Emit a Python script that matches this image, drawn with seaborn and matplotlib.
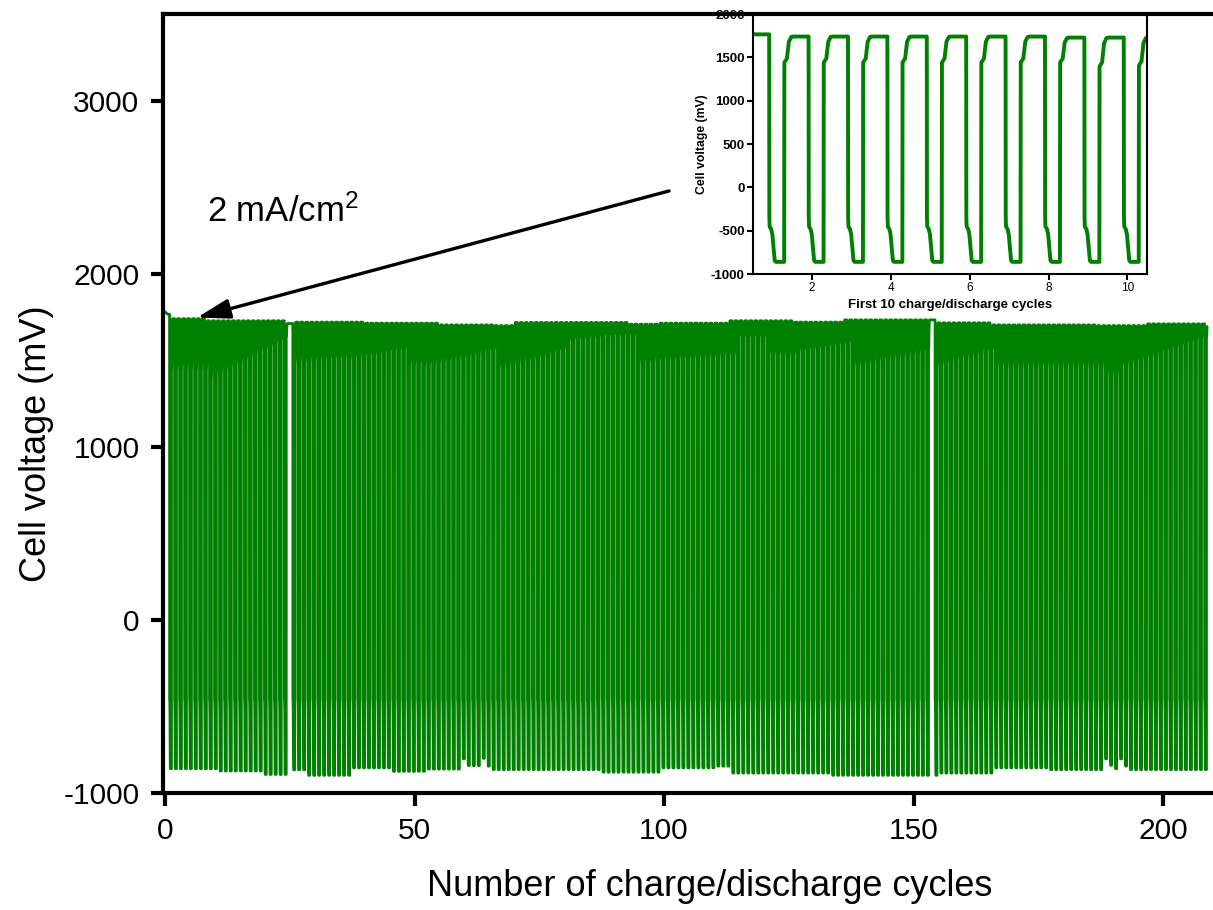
import numpy as np
import pandas as pd
import matplotlib
matplotlib.use("Agg")
import matplotlib.pyplot as plt
import seaborn as sns

# plateau voltage at the end of each charge step (mV), as (value, number of cycles)
top_runs = [(1765, 1), (1740, 7), (1728, 16), (1712, 1), (1720, 14), (1714, 15),
            (1704, 11), (1700, 4), (1718, 23), (1708, 6), (1714, 14), (1728, 13),
            (1720, 10), (1733, 18), (1716, 11), (1704, 21), (1700, 10), (1710, 12)]

# bottom of each discharge step (mV), as (value, number of cycles)
bottom_runs = [(-860, 10), (-873, 9), (-893, 5), (-866, 3), (-898, 9), (-855, 8),
               (-875, 7), (-862, 7), (-803, 1), (-842, 3), (-800, 1), (-845, 1),
               (-865, 22), (-880, 12), (-855, 11), (-845, 3), (-885, 20), (-898, 21),
               (-885, 11), (-855, 11), (-865, 11), (-803, 1), (-840, 1), (-860, 1),
               (-803, 1), (-845, 1), (-865, 16)]

# voltage of the first step when charging starts again, per cycle (mV)
charge_knee = [
    1441, 1441, 1440, 1442, 1441, 1440, 1441, 1442, 1393, 1405,
    1420, 1436, 1452, 1468, 1484, 1500, 1516, 1532, 1548, 1564,
    1580, 1596, 1612, 1628, 1479, 1482, 1485, 1488, 1491, 1494,
    1497, 1500, 1502, 1505, 1508, 1500, 1506, 1511, 1517, 1522,
    1528, 1533, 1539, 1544, 1550, 1555, 1560, 1470, 1470, 1470,
    1460, 1467, 1474, 1481, 1488, 1495, 1502, 1509, 1516, 1523,
    1530, 1537, 1544, 1551, 1560, 1450, 1457, 1464, 1471, 1478,
    1485, 1490, 1500, 1510, 1520, 1530, 1540, 1550, 1560, 1614,
    1618, 1622, 1625, 1628, 1631, 1633, 1642, 1642, 1642, 1642,
    1642, 1642, 1642, 1479, 1479, 1479, 1489, 1491, 1494, 1496,
    1498, 1501, 1503, 1505, 1508, 1510, 1512, 1515, 1517, 1519,
    1522, 1524, 1527, 1633, 1633, 1633, 1633, 1633, 1633, 1530,
    1530, 1530, 1530, 1530, 1530, 1547, 1552, 1557, 1562, 1566,
    1571, 1576, 1581, 1586, 1590, 1595, 1460, 1466, 1472, 1478,
    1484, 1490, 1496, 1502, 1508, 1514, 1520, 1526, 1532, 1538,
    1544, 1550, 1460, 1469, 1477, 1486, 1495, 1504, 1512, 1521,
    1530, 1538, 1547, 1556, 1460, 1460, 1460, 1460, 1460, 1460,
    1460, 1460, 1460, 1460, 1460, 1460, 1460, 1460, 1460, 1460,
    1460, 1460, 1460, 1460, 1460, 1460, 1400, 1400, 1400, 1460,
    1470, 1480, 1490, 1500, 1510, 1520, 1531, 1542, 1553, 1564,
    1575, 1586, 1597, 1608, 1619, 1626, 1633,
]

# shape of one cycle (offsets in cycles after the discharge step)
start_t = [0.0, 0.3, 0.6]
start_mv = [1780, 1772, 1765]
discharge_dt = [0.004, 0.012, 0.05, 0.08, 0.11]
discharge_mv = [-340, -455, -480, -540, -700]
trough_dt = [0.14, 0.17, 0.38]
rise_dt = [0.385, 0.45, 0.50, 0.56, 0.60]
rise_frac = [0.0, 0.15, 0.8, 0.983, 1.0]
step_time = 0.91
hold_cycles = [24, 152]   # cycles where the charge plateau was held longer
hold_extra = 0.7

tops = np.repeat([a for a, n in top_runs], [n for a, n in top_runs])
bottoms = np.repeat([a for a, n in bottom_runs], [n for a, n in bottom_runs])
n_cycles = len(charge_knee)

t, v = list(start_t), list(start_mv)
for k in range(n_cycles):
    d = k + step_time + hold_extra * sum(k >= h for h in hold_cycles)
    t.append(d)
    v.append(tops[k])
    for dt, mv in zip(discharge_dt, discharge_mv):
        t.append(d + dt)
        v.append(mv)
    for dt, off in zip(trough_dt, [15, 0, 0]):
        t.append(d + dt)
        v.append(bottoms[k] + off)
    last = k + 1 >= n_cycles
    nxt = tops[k] if last else tops[k + 1]
    knee = charge_knee[k]
    for dt, f in list(zip(rise_dt, rise_frac))[: 3 if last else 5]:
        t.append(d + dt)
        v.append(knee + f * (nxt - knee))

df = pd.DataFrame({"cycle": t, "voltage": v})
green = "#008000"

sns.set_style("ticks")
plt.rcParams["font.family"] = ["Liberation Sans", "DejaVu Sans"]
plt.rcParams["mathtext.fontset"] = "custom"
plt.rcParams["mathtext.rm"] = "Liberation Sans"
plt.rcParams["mathtext.it"] = "Liberation Sans"
plt.rcParams["axes.unicode_minus"] = False
for key in ["text.color", "axes.labelcolor", "xtick.color", "ytick.color",
            "xtick.labelcolor", "ytick.labelcolor"]:
    plt.rcParams[key] = "black"

fig = plt.figure(figsize=(12.13, 9.10), dpi=100)
fig.patch.set_facecolor("white")

ax = fig.add_axes([0.1344, 0.1286, 0.8656, 0.856])
ax.set_facecolor("none")
ax.set_zorder(2)
sns.lineplot(data=df, x="cycle", y="voltage", ax=ax, color=green, linewidth=2.0,
             estimator=None, sort=False)
ax.set_xlim(-0.4, 210.0)
ax.set_ylim(-1000, 3500)
ax.set_xticks([0, 50, 100, 150, 200])
ax.set_yticks([-1000, 0, 1000, 2000, 3000])
for side in ["left", "top", "bottom"]:
    ax.spines[side].set_linewidth(3)
    ax.spines[side].set_color("black")
ax.spines["right"].set_visible(False)
ax.tick_params(direction="out", length=9, width=3, labelsize=21.5, pad=8, color="black")
ax.set_xlabel("Number of charge/discharge cycles", fontsize=26)
ax.set_ylabel("Cell voltage (mV)", fontsize=26)
ax.xaxis.set_label_coords(0.521, -0.097)
ax.yaxis.set_label_coords(-0.104, 0.449)

ax.annotate("", xy=(6.4, 1746), xytext=(101, 2478),
            arrowprops=dict(arrowstyle="-|>,head_length=1.0,head_width=0.3",
                            lw=2.4, color="black", mutation_scale=20,
                            shrinkA=0, shrinkB=0))
ax.text(8.4, 2300, "2 mA/cm$^2$", fontsize=25, ha="left", va="baseline")

ins = fig.add_axes([0.6208, 0.6989, 0.3248, 0.2857])
ins.set_zorder(1)
sns.lineplot(data=df[df["cycle"] <= 10.6], x="cycle", y="voltage", ax=ins,
             color=green, linewidth=2.8, estimator=None, sort=False)
ins.set_xlim(0.5, 10.5)
ins.set_ylim(-1000, 2000)
ins.set_xticks([2, 4, 6, 8, 10])
ins.set_yticks([-1000, -500, 0, 500, 1000, 1500, 2000])
for side in ins.spines:
    ins.spines[side].set_linewidth(1.5)
    ins.spines[side].set_color("black")
ins.tick_params(direction="out", length=4, width=1.5, pad=2, color="black")
ins.tick_params(axis="x", labelsize=8.5)
ins.tick_params(axis="y", labelsize=9.5)
for lab in ins.get_yticklabels():
    lab.set_fontweight("bold")
ins.set_xlabel("First 10 charge/discharge cycles", fontsize=9.5, fontweight="bold", labelpad=3)
ins.set_ylabel("Cell voltage (mV)", fontsize=8.8, fontweight="bold", labelpad=2)

fig.savefig("out.png", dpi=100, facecolor="white")
